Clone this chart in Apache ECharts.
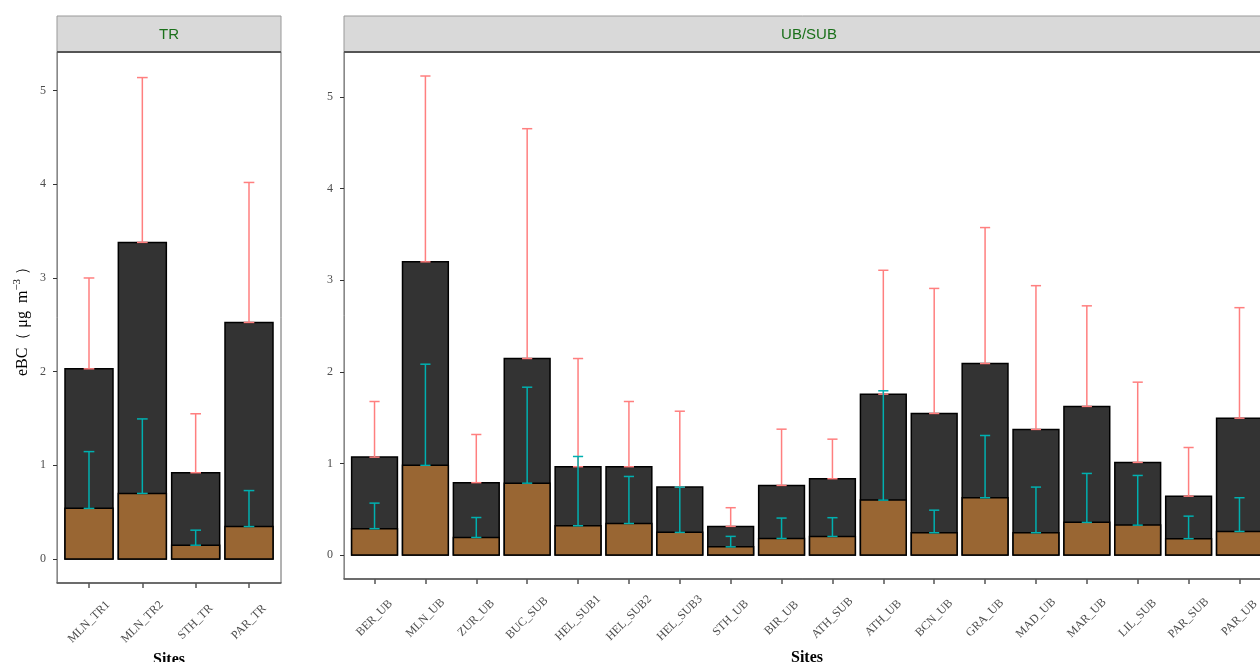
<!DOCTYPE html>
<html>
<head>
<meta charset="utf-8">
<title>eBC by site</title>
<script src="https://cdn.jsdelivr.net/npm/echarts@6/dist/echarts.min.js"></script>
<style>
    html, body { margin: 0; padding: 0; background: #fff; }
    #chart { width: 1260px; height: 662px; }
</style>
</head>
<body>
<div id="chart"></div>
<script>
    // TR panel
    var trSites = ['MLN_TR1', 'MLN_TR2', 'STH_TR', 'PAR_TR'];
    var trBC = [2.03, 3.38, 0.92, 2.525];      // total eBC (dark bar)
    var trBB = [0.54, 0.70, 0.147, 0.346];     // brown part
    var trBCUp = [3.0, 5.14, 1.55, 4.02];      // red error bar top
    var trBBUp = [1.146, 1.495, 0.307, 0.73];  // teal error bar top

    // UB/SUB panel
    var ubSites = ['BER_UB', 'MLN_UB', 'ZUR_UB', 'BUC_SUB', 'HEL_SUB1', 'HEL_SUB2', 'HEL_SUB3', 'STH_UB', 'BIR_UB',
        'ATH_SUB', 'ATH_UB', 'BCN_UB', 'GRA_UB', 'MAD_UB', 'MAR_UB', 'LIL_SUB', 'PAR_SUB', 'PAR_UB'];
    var ubBC = [1.069, 3.20, 0.79, 2.145, 0.964, 0.964, 0.742, 0.313, 0.76, 0.833, 1.756, 1.545, 2.09, 1.371, 1.622, 1.011, 0.643, 1.494];
    var ubBB = [0.288, 0.98, 0.193, 0.785, 0.32, 0.345, 0.248, 0.09, 0.182, 0.204, 0.60, 0.244, 0.626, 0.244, 0.357, 0.327, 0.179, 0.258];
    var ubBCUp = [1.676, 5.228, 1.316, 4.653, 2.145, 1.676, 1.57, 0.517, 1.374, 1.265, 3.108, 2.91, 3.574, 2.94, 2.72, 1.887, 1.174, 2.70];
    var ubBBUp = [0.567, 2.083, 0.41, 1.832, 1.076, 0.858, 0.742, 0.204, 0.404, 0.408, 1.793, 0.49, 1.305, 0.742, 0.891, 0.869, 0.425, 0.626];

    var yTicks = [0, 1, 2, 3, 4, 5];

    var serif = '"Liberation Serif", "DejaVu Serif", serif';
    var sans = '"Liberation Sans", Arial, sans-serif';

    function rows(bc, bb, bcUp, bbUp) {
        return bc.map(function (v, i) { return [i, bb[i], v, bbUp[i], bcUp[i]]; });
    }

    function errBar(x, y0, y1, cap, color) {
        var st = { stroke: color, lineWidth: 1.5 };
        return [
            { type: 'line', shape: { x1: x, y1: y0, x2: x, y2: y1 }, style: st },
            { type: 'line', shape: { x1: x - cap, y1: y0, x2: x + cap, y2: y0 }, style: st },
            { type: 'line', shape: { x1: x - cap, y1: y1, x2: x + cap, y2: y1 }, style: st }
        ];
    }

    function renderItem(params, api) {
        var x = api.value(0);
        var half = api.size([0.9, 0])[0] / 2;
        var cap = api.size([0.2, 0])[0] / 2;
        var p0 = api.coord([x, 0]);
        var pBB = api.coord([x, api.value(1)]);
        var pBC = api.coord([x, api.value(2)]);
        var pBBUp = api.coord([x, api.value(3)]);
        var pBCUp = api.coord([x, api.value(4)]);
        var children = [
            { type: 'rect', shape: { x: p0[0] - half, y: pBC[1], width: half * 2, height: p0[1] - pBC[1] },
              style: { fill: '#333333', stroke: '#000', lineWidth: 1.5 } },
            { type: 'rect', shape: { x: p0[0] - half, y: pBB[1], width: half * 2, height: p0[1] - pBB[1] },
              style: { fill: '#996633', stroke: '#000', lineWidth: 1.5 } }
        ];
        children = children.concat(errBar(p0[0], pBC[1], pBCUp[1], cap, '#FF7F7F'));
        children = children.concat(errBar(p0[0], pBB[1], pBBUp[1], cap, '#00B0B0'));
        return { type: 'group', children: children };
    }

    function xAxisFor(grid, sites, gap) {
        var idx = sites.map(function (s, i) { return i; });
        return {
            type: 'value', gridIndex: grid, min: -0.6, max: sites.length - 0.4,
            name: 'Sites', nameLocation: 'middle', nameGap: gap,
            nameTextStyle: { fontFamily: serif, fontWeight: 'bold', fontSize: 16, color: '#000' },
            axisLine: { show: true, onZero: false, lineStyle: { color: '#555', width: 1.5 } },
            axisTick: { show: true, customValues: idx, length: 5, lineStyle: { color: '#555', width: 1.5 } },
            axisLabel: {
                customValues: idx, rotate: 45, margin: 39, align: 'center', verticalAlign: 'middle',
                fontFamily: serif, fontSize: 12, color: '#4D4D4D',
                formatter: function (v) { return sites[Math.round(v)]; }
            },
            splitLine: { show: false }
        };
    }

    function yAxisFor(grid, min, max) {
        return {
            type: 'value', gridIndex: grid, min: min, max: max,
            axisLine: { show: true, onZero: false, lineStyle: { color: '#888', width: 1 } },
            axisTick: { show: true, customValues: yTicks, length: 4, lineStyle: { color: '#333' } },
            axisLabel: { customValues: yTicks, margin: 11, fontFamily: serif, fontSize: 12, color: '#4D4D4D' },
            splitLine: { show: false }
        };
    }

    function strip(x, w, text) {
        return [
            { type: 'rect', shape: { x: x, y: 16, width: w, height: 36 },
              style: { fill: '#D9D9D9', stroke: '#999', lineWidth: 1 }, z: 10 },
            { type: 'line', shape: { x1: x, y1: 52, x2: x + w, y2: 52 },
              style: { stroke: '#555', lineWidth: 2 }, z: 11 },
            { type: 'text', x: x + w / 2, y: 35, z: 11,
              style: { text: text, fontFamily: sans, fontSize: 15, fill: '#1A701A', align: 'center', verticalAlign: 'middle' } }
        ];
    }

    var chart = echarts.init(document.getElementById('chart'));

    var leftY = yAxisFor(0, -0.257, 5.413);
    leftY.name = 'eBC（ μg  m{sup|−3} ）';
    leftY.nameLocation = 'middle';
    leftY.nameGap = 24;
    leftY.nameTextStyle = {
        fontFamily: serif, fontSize: 16, color: '#000',
        rich: { sup: { fontFamily: serif, fontSize: 11, verticalAlign: 'top', padding: [0, 0, 10, 0] } }
    };

    chart.setOption({
        animation: false,
        backgroundColor: '#fff',
        grid: [
            { left: 57, top: 52, width: 224, height: 531, show: true, borderColor: '#666', borderWidth: 1,
              containLabel: false, outerBoundsMode: 'none' },
            { left: 344, top: 52, width: 926, height: 527, show: true, borderColor: '#666', borderWidth: 1,
              containLabel: false, outerBoundsMode: 'none' }
        ],
        xAxis: [xAxisFor(0, trSites, 66), xAxisFor(1, ubSites, 70)],
        yAxis: [leftY, yAxisFor(1, -0.261, 5.49)],
        graphic: strip(57, 224, 'TR').concat(strip(344, 930, 'UB/SUB')),
        series: [
            { type: 'custom', xAxisIndex: 0, yAxisIndex: 0, renderItem: renderItem,
              encode: { x: 0, y: [1, 2, 3, 4] }, data: rows(trBC, trBB, trBCUp, trBBUp) },
            { type: 'custom', xAxisIndex: 1, yAxisIndex: 1, renderItem: renderItem,
              encode: { x: 0, y: [1, 2, 3, 4] }, data: rows(ubBC, ubBB, ubBCUp, ubBBUp) }
        ]
    });
</script>
</body>
</html>
